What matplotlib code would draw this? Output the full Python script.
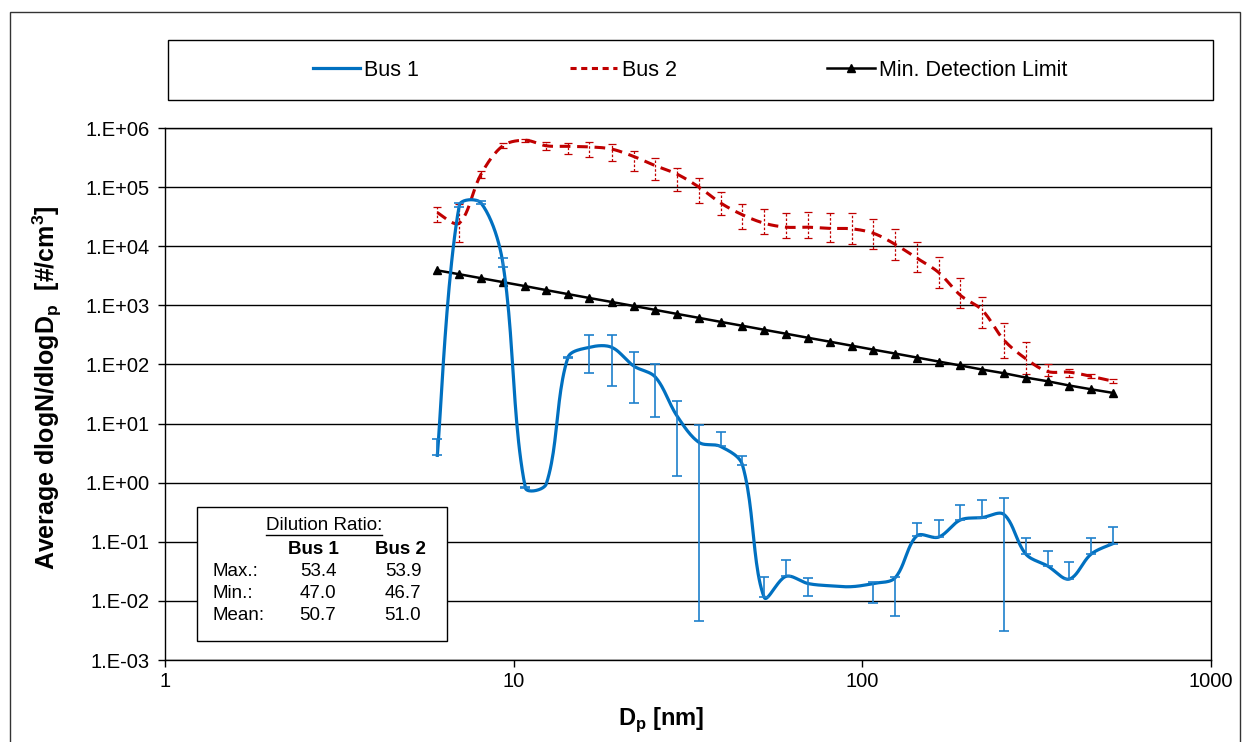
import numpy as np
import matplotlib
matplotlib.use("Agg")
import matplotlib.pyplot as plt
from matplotlib.lines import Line2D
from matplotlib.patches import Rectangle
from matplotlib.ticker import FixedLocator, FuncFormatter, NullLocator

plt.rcParams["font.family"] = ["Liberation Sans", "DejaVu Sans"]
plt.rcParams["mathtext.fontset"] = "custom"
plt.rcParams["mathtext.rm"] = "Liberation Sans"
plt.rcParams["mathtext.bf"] = "Liberation Sans:bold"

# FMPS channel mid-point diameters [nm]
dp = [6.04, 6.98, 8.06, 9.31, 10.8, 12.4, 14.3, 16.5, 19.1, 22.1, 25.5, 29.4,
      34.0, 39.2, 45.3, 52.3, 60.4, 69.8, 80.6, 93.1, 107.5, 124.1, 143.3,
      165.5, 191.1, 220.7, 254.8, 294.3, 339.8, 392.4, 453.2, 523.3]

bus1 = [2.9, 4.9e4, 5.4e4, 5.2e3, 0.82, 0.95, 130, 195, 195, 94, 61, 13.5,
        4.8, 4.1, 2.0, 0.0115, 0.026, 0.0197, 0.018, 0.0174, 0.0197, 0.0245,
        0.126, 0.12, 0.234, 0.257, 0.29, 0.062, 0.039, 0.0234, 0.062, 0.093]
bus1_lo = [2.9, 4.6e4, 5.1e4, 4.5e3, 0.80, np.nan, 128, 71, 44, 22, 13, 1.3,
           0.0046, 4.1, 2.0, 0.0115, 0.026, 0.0122, np.nan, np.nan, 0.0093, 0.0056,
           0.126, 0.12, 0.234, 0.257, 0.0031, 0.062, 0.039, 0.0234, 0.062, 0.093]
bus1_hi = [5.5, 5.4e4, 5.9e4, 6.2e3, 0.85, np.nan, 135, 310, 310, 163, 102, 24,
           9.5, 7.1, 2.8, 0.025, 0.05, 0.0245, np.nan, np.nan, 0.0205, 0.0255,
           0.21, 0.236, 0.42, 0.51, 0.54, 0.118, 0.071, 0.046, 0.118, 0.175]

bus2 = [3.7e4, 2.45e4, 1.65e5, 5.0e5, 6.2e5, 5.0e5, 4.9e5, 4.8e5, 4.4e5, 3.3e5,
        2.3e5, 1.66e5, 1.0e5, 5.4e4, 3.4e4, 2.45e4, 2.1e4, 2.1e4, 2.0e4, 1.97e4,
        1.66e4, 1.08e4, 6.3e3, 3.6e3, 1.48e3, 830, 258, 125, 76, 74, 63, 52]
bus2_lo = [2.6e4, 1.17e4, 1.4e5, 4.6e5, 5.7e5, 4.2e5, 3.6e5, 3.2e5, 2.8e5, 1.9e5,
           1.3e5, 8.5e4, 5.3e4, 3.4e4, 1.96e4, 1.6e4, 1.4e4, 1.4e4, 1.2e4, 1.08e4,
           8.9e3, 5.8e3, 3.6e3, 2.0e3, 890, 410, 130, 70, 65, 62, 58, 48]
bus2_hi = [4.6e4, 5.1e4, 1.9e5, 5.6e5, 6.6e5, 5.8e5, 5.5e5, 5.8e5, 5.4e5, 4.1e5,
           3.1e5, 2.1e5, 1.4e5, 8.3e4, 5.2e4, 4.3e4, 3.6e4, 3.8e4, 3.6e4, 3.6e4,
           2.9e4, 1.96e4, 1.17e4, 6.5e3, 2.9e3, 1.38e3, 500, 240, 100, 85, 68, 56]

mdl = [3900, 3360, 2880, 2470, 2110, 1810, 1550, 1330, 1140, 975, 836, 716,
       614, 526, 451, 386, 331, 283, 243, 208, 178, 153, 131, 112, 96, 82,
       71, 60, 52, 44, 38, 33]

table_cols = ["Bus 1", "Bus 2"]
table_rows = ["Max.:", "Min.:", "Mean:"]
table_vals = [["53.4", "53.9"], ["47.0", "46.7"], ["50.7", "51.0"]]

BLUE = "#0070C0"
BLUE_ERR = "#1E80CC"
RED = "#C00000"

# pixels per decade on screen, used so the smoothing works in screen space
PX_X, PX_Y = 349.0, 59.0


def smooth_line(x, y, n=24):
    # Excel-like smoothed line: Bezier segments, tangents weighted by segment length
    P = np.column_stack([np.log10(x) * PX_X, np.log10(y) * PX_Y])
    m = len(P)
    d = np.hypot(*np.diff(P, axis=0).T)
    out = []
    for i in range(m - 1):
        p0 = P[i - 1] if i > 0 else P[i]
        p1, p2 = P[i], P[i + 1]
        p3 = P[i + 2] if i + 2 < m else P[i + 1]
        d_prev = d[i - 1] if i > 0 else d[i]
        d_next = d[i + 1] if i + 2 < m else d[i]
        w1 = 2 * d[i] / (d_prev + d[i])
        w2 = 2 * d[i] / (d[i] + d_next)
        c1 = p1 + (p2 - p0) / 6 * w1
        c2 = p2 - (p3 - p1) / 6 * w2
        t = np.linspace(0, 1, n)[:, None]
        seg = (1 - t) ** 3 * p1 + 3 * (1 - t) ** 2 * t * c1 + 3 * (1 - t) * t ** 2 * c2 + t ** 3 * p2
        out.append(seg if i == 0 else seg[1:])
    out = np.vstack(out)
    return 10 ** (out[:, 0] / PX_X), 10 ** (out[:, 1] / PX_Y)


def err(val, lo, hi):
    val, lo, hi = np.array(val), np.array(lo), np.array(hi)
    return [val - lo, hi - val]


W, H = 1249, 742
fig = plt.figure(figsize=(W / 100, H / 100), dpi=100)
ax = fig.add_axes([165 / W, 1 - 660 / H, (1211 - 165) / W, (660 - 128) / H])

# outer chart border
fig.add_artist(Rectangle((10 / W, -0.05), 1230 / W, 1.05 - 12 / H,
                         transform=fig.transFigure, fill=False,
                         edgecolor="#333333", lw=1))

ax.set_xscale("log")
ax.set_yscale("log")
ax.set_xlim(1, 1000)
ax.set_ylim(1e-3, 1e6)

ax.yaxis.set_major_locator(FixedLocator([10.0 ** k for k in range(-3, 7)]))
ax.yaxis.set_minor_locator(NullLocator())
ax.yaxis.set_major_formatter(FuncFormatter(lambda v, p: f"1.E{int(round(np.log10(v))):+03d}"))
ax.xaxis.set_major_locator(FixedLocator([1, 10, 100, 1000]))
ax.xaxis.set_minor_locator(NullLocator())
ax.xaxis.set_major_formatter(FuncFormatter(lambda v, p: f"{int(v)}"))
ax.tick_params(axis="both", labelsize=14.5, length=5, width=1, direction="out")
ax.tick_params(axis="y", pad=6)
ax.grid(axis="y", color="black", lw=1)
ax.set_axisbelow(True)
for s in ax.spines.values():
    s.set_color("black")
    s.set_linewidth(1)

# Bus 2
ex, ey = smooth_line(dp, bus2)
ax.plot(ex, ey, color=RED, lw=2.2, dashes=(3.5, 2.2), zorder=4)
e2 = ax.errorbar(dp, bus2, yerr=err(bus2, bus2_lo, bus2_hi), fmt="none",
                 ecolor=RED, elinewidth=0.9, capsize=3, capthick=0.9, zorder=3)
e2[2][0].set_linestyle((0, (2, 1.5)))

# Min. detection limit
ax.plot(dp, mdl, color="black", lw=1.8, marker="^", markersize=6, zorder=5)

# Bus 1
bx, by = smooth_line(dp, bus1)
ax.plot(bx, by, color=BLUE, lw=2.3, zorder=6)
ax.errorbar(dp, bus1, yerr=err(bus1, bus1_lo, bus1_hi), fmt="none",
            ecolor=BLUE_ERR, elinewidth=1.2, capsize=3.5, capthick=1.2, zorder=6)

ax.set_xlabel(r"D$_\mathbf{p}$ [nm]", fontsize=17, fontweight="bold")
ax.xaxis.set_label_coords((661 - 165) / 1046, -(705 - 660) / 532)
ax.set_ylabel(r"Average dlogN/dlogD$_\mathbf{p}$  [#/cm$^\mathbf{3}$]",
              fontsize=18, fontweight="bold")
ax.yaxis.set_label_coords(-(165 - 64) / 1046, (660 - 388) / 532)

# legend box
fig.add_artist(Rectangle((168 / W, 1 - 100 / H), (1213 - 168) / W, 60 / H,
                         transform=fig.transFigure, fill=False,
                         edgecolor="black", lw=1))
handles = [Line2D([], [], color=BLUE, lw=2.3),
           Line2D([], [], color=RED, lw=2.2, dashes=(2, 1.5)),
           Line2D([], [], color="black", lw=1.8, marker="^", markersize=6)]
fig.legend(handles, ["Bus 1", "Bus 2", "Min. Detection Limit"],
           loc="center", bbox_to_anchor=(690 / W, 1 - 70 / H),
           ncol=3, frameon=False, fontsize=15.5, handlelength=2.2,
           handletextpad=0.2, columnspacing=7.0)

# dilution ratio table
ax.add_patch(Rectangle((197 / W, 1 - 641 / H), 250 / W, 134 / H,
                       transform=fig.transFigure, facecolor="white",
                       edgecolor="black", lw=1, zorder=10))


def ftext(x, y, s, **kw):
    return fig.text(x / W, 1 - y / H, s, va="center", fontsize=13.5, zorder=11, **kw)


title = ftext(324, 525, "Dilution Ratio:", ha="center")
ftext(313, 549, table_cols[0], ha="center", fontweight="bold")
ftext(400, 549, table_cols[1], ha="center", fontweight="bold")
for r, (lab, vals) in enumerate(zip(table_rows, table_vals)):
    y = 572 + r * 21.5
    ftext(212, y, lab, ha="left")
    ftext(318, y, vals[0], ha="center")
    ftext(403, y, vals[1], ha="center")

renderer = fig.canvas.get_renderer()
bb = title.get_window_extent(renderer)
fig.add_artist(Line2D([bb.x0 / W, bb.x1 / W], [(bb.y0 - 1) / H, (bb.y0 - 1) / H],
                      transform=fig.transFigure, color="black", lw=1, zorder=11))

fig.savefig("out.png", dpi=100)
